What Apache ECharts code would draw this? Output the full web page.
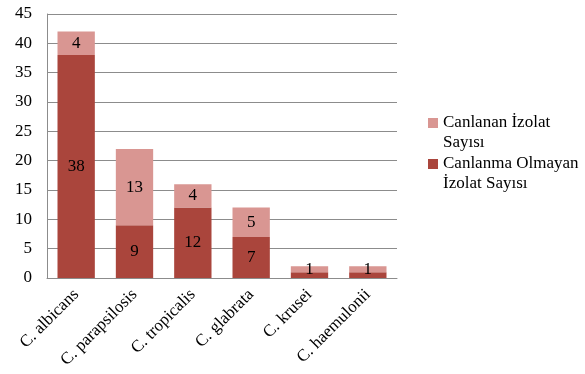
<!DOCTYPE html>
<html>
<head>
<meta charset="utf-8">
<script src="https://cdn.jsdelivr.net/npm/echarts@6/dist/echarts.min.js"></script>
<style>
  html, body { margin: 0; padding: 0; background: #fff; }
  #chart { width: 585px; height: 374px; }
</style>
</head>
<body>
<div id="chart"></div>
<script>
// species on the x axis
let categories = ['C. albicans', 'C. parapsilosis', 'C. tropicalis', 'C. glabrata', 'C. krusei', 'C. haemulonii'];
// stacked values
let notRevived = [38, 9, 12, 7, 1, 1];
let revived = [4, 13, 4, 5, 1, 1];
let seriesNames = ['Canlanan İzolat Sayısı', 'Canlanma Olmayan İzolat Sayısı'];
// leading blank line keeps the icon level with the first text line
let legendText = {
    'Canlanan İzolat Sayısı': '\nCanlanan İzolat\nSayısı',
    'Canlanma Olmayan İzolat Sayısı': '\nCanlanma Olmayan\nİzolat Sayısı'
};

let font = '"Liberation Serif", "DejaVu Serif", serif';
let myChart = echarts.init(document.getElementById('chart'));

// small bars (value 1) show only the top label, like the original
let bottomData = notRevived.map((v) => ({value: v, label: {show: v > 1}}));

myChart.setOption({
    animation: false,
    textStyle: {fontFamily: font},
    grid: {left: 47, right: 188, top: 14, bottom: 96, containLabel: false},
    legend: {
        orient: 'vertical',
        left: 423,
        top: 88,
        icon: 'rect',
        itemWidth: 10,
        itemHeight: 10,
        itemGap: -19,
        data: seriesNames,
        formatter: (name) => legendText[name],
        textStyle: {fontFamily: font, fontSize: 17, color: '#000', lineHeight: 20}
    },
    xAxis: {
        type: 'category',
        data: categories,
        axisLine: {lineStyle: {color: '#8c8c8c', width: 1}},
        axisTick: {show: false},
        axisLabel: {rotate: 45, fontFamily: font, fontSize: 17, color: '#000', margin: 14, interval: 0}
    },
    yAxis: {
        type: 'value',
        min: 0,
        max: 45,
        interval: 5,
        axisLine: {show: true, lineStyle: {color: '#8c8c8c', width: 1}},
        axisTick: {show: false},
        splitLine: {lineStyle: {color: '#8c8c8c', width: 1}},
        axisLabel: {fontFamily: font, fontSize: 17, color: '#000', margin: 15}
    },
    series: [
        {
            name: 'Canlanma Olmayan İzolat Sayısı',
            type: 'bar',
            stack: 'total',
            barCategoryGap: '36%',
            data: bottomData,
            itemStyle: {color: '#aa453c'},
            label: {show: true, position: 'inside', fontFamily: font, fontSize: 17, color: '#000'}
        },
        {
            name: 'Canlanan İzolat Sayısı',
            type: 'bar',
            stack: 'total',
            barCategoryGap: '36%',
            data: revived,
            itemStyle: {color: '#d99692'},
            label: {show: true, position: 'inside', fontFamily: font, fontSize: 17, color: '#000'}
        }
    ]
});
</script>
</body>
</html>
